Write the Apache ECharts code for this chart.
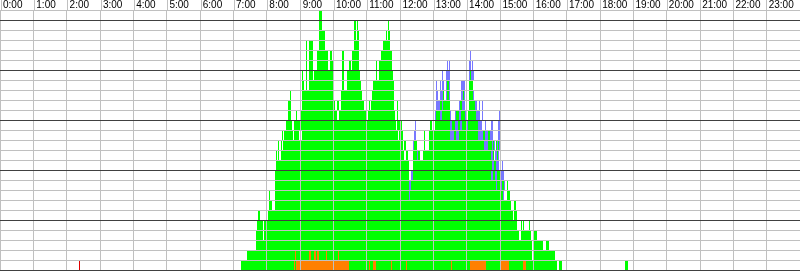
<!DOCTYPE html>
<html><head><meta charset="utf-8">
<script src="https://cdn.jsdelivr.net/npm/echarts@6/dist/echarts.min.js"></script>
<style>html,body{margin:0;padding:0;background:#fff}#c{width:800px;height:271px}</style>
</head><body><div id="c"></div>
<script>
// hour tick labels (x axis, minutes of day / 60)
const hourLabels = ['0:00','1:00','2:00','3:00','4:00','5:00','6:00','7:00','8:00','9:00','10:00','11:00',
  '12:00','13:00','14:00','15:00','16:00','17:00','18:00','19:00','20:00','21:00','22:00','23:00'];

// occupancy runs: [lane, startMinute, endMinute]
const green = [
 [1,434,1003],[1,1006,1011],[1,1125,1130],
 [2,445,957],[2,961,999],
 [3,461,957],[3,961,977],[3,982,989],
 [4,461,474],[4,476,935],[4,938,956],[4,962,966],
 [5,463,474],[5,476,931],[5,937,939],[5,941,943],[5,952,953],
 [6,464,468],[6,482,923],[6,925,930],
 [7,484,489],[7,495,919],[7,926,928],
 [8,484,486],[8,495,907],[8,912,918],
 [9,495,909],[9,912,914],
 [10,495,736],[10,743,901],
 [11,497,737],[11,743,885],[11,889,893],
 [12,497,499],[12,500,503],[12,505,727],[12,730,734],[12,743,750],[12,752,756],[12,761,884],[12,887,889],[12,894,896],
 [13,500,503],[13,505,507],[13,509,725],[13,727,731],[13,745,750],[13,763,765],[13,772,871],[13,878,885],[13,887,889],[13,892,894],[13,896,899],
 [14,508,510],[14,512,527],[14,530,539],[14,543,716],[14,719,725],[14,763,765],[14,772,810],[14,817,821],[14,826,860],[14,869,873],[14,878,882],
 [15,515,526],[15,530,540],[15,541,713],[15,715,723],[15,774,778],[15,783,810],[15,814,819],[15,824,828],[15,832,840],[15,842,860],
 [16,518,524],[16,532,533],[16,541,607],[16,610,659],[16,662,711],[16,714,717],[16,785,792],[16,796,810],[16,821,826],[16,830,837],[16,842,857],
 [17,518,520],[17,521,524],[17,544,603],[17,607,610],[17,613,656],[17,658,660],[17,664,666],[17,668,710],[17,714,716],[17,792,796],[17,797,810],[17,828,832],[17,844,855],
 [18,522,524],[18,544,602],[18,614,652],[18,670,710],[18,797,799],[18,805,808],[18,833,835],[18,844,851],
 [19,544,547],[19,550,552],[19,556,600],[19,616,620],[19,625,649],[19,672,709],[19,805,808],[19,844,851],
 [20,544,546],[20,550,552],[20,556,563],[20,566,599],[20,616,619],[20,625,648],[20,676,679],[20,682,708],[20,846,848],
 [21,550,552],[21,556,563],[21,570,590],[21,594,599],[21,616,619],[21,629,632],[21,634,647],[21,676,679],[21,683,705],
 [22,550,552],[22,557,563],[22,570,590],[22,594,598],[22,616,619],[22,633,647],[22,686,705],
 [23,550,552],[23,557,563],[23,574,585],[23,637,647],[23,690,702],
 [24,574,585],[24,637,640],[24,642,646],[24,694,696],[24,698,702],
 [25,574,580],[25,637,640],[25,642,644],[25,698,700],
 [26,574,579]
];
const blue = [
 [8,736,738],[8,906,908],
 [9,737,739],[9,893,895],[9,902,904],[9,907,909],
 [10,740,743],[10,884,887],[10,891,895],[10,901,907],
 [11,885,889],[11,893,898],[11,903,905],
 [12,750,752],[12,884,887],[12,891,894],[12,896,899],
 [13,743,745],[13,871,878],[13,885,887],[13,889,891],[13,894,896],[13,899,900],
 [14,745,749],[14,810,817],[14,821,826],[14,860,869],[14,873,878],[14,882,887],[14,896,900],
 [15,747,749],[15,810,814],[15,819,824],[15,828,832],[15,840,842],[15,860,868],[15,873,875],[15,883,884],[15,885,887],[15,896,900],
 [16,783,785],[16,792,796],[16,810,812],[16,819,821],[16,826,830],[16,837,841],[16,857,864],[16,868,869],[16,898,900],
 [17,785,792],[17,796,797],[17,826,828],[17,832,837],[17,855,859],[17,862,864],[17,868,869],
 [18,785,788],[18,792,797],[18,803,805],[18,808,810],[18,830,833],[18,835,837],[18,851,853],
 [19,785,787],[19,792,794],[19,796,799],[19,803,805],[19,808,810],[19,830,837],
 [20,796,797],[20,803,810],[20,844,846],[20,848,853],
 [21,805,806],[21,808,810],[21,844,848],[21,850,851],
 [22,846,848]
];
const orange = [
 [1,529,531],[1,533,629],[1,664,665],[1,672,676],[1,703,704],[1,730,732],[1,812,814],[1,846,874],[1,901,917],[1,941,946],
 [2,531,533],[2,557,560],[2,565,568],[2,571,574],[2,587,589],[2,608,610]
];
const red = [[1,142,144]];

const chart = echarts.init(document.getElementById('c'), null, {renderer: 'canvas'});

function laneRect(color) {
  return function (params, api) {
    const lane = api.value(0), s = api.value(1), e = api.value(2);
    const p0 = api.coord([s, lane - 1]);
    const p1 = api.coord([e, lane]);
    const x0 = Math.round(p0[0]);
    const x1 = Math.max(Math.round(p1[0]), x0 + 1);
    const y0 = Math.round(p1[1]);
    const y1 = Math.round(p0[1]);
    return {type: 'rect', shape: {x: x0, y: y0, width: x1 - x0, height: y1 - y0},
            style: {fill: color}};
  };
}
function laneSeries(name, data, color) {
  return {name: name, type: 'custom', xAxisIndex: 1, yAxisIndex: 1, z: 2,
          renderItem: laneRect(color), encode: {x: [1, 2], y: 0}, data: data, silent: true};
}

chart.setOption({
  animation: false,
  grid: [
    {left: 0, right: 0, top: 0, height: 10},
    {left: 0, right: 0, top: 10, height: 260}
  ],
  xAxis: [
    {gridIndex: 0, type: 'value', min: 0, max: 1440, interval: 60, position: 'bottom',
     axisLine: {show: false}, axisTick: {show: false},
     axisLabel: {inside: true, margin: 0, align: 'left', verticalAlign: 'bottom', padding: [0, 0, 0, 2],
       fontFamily: 'Liberation Sans', fontSize: 10, color: '#000', showMaxLabel: false,
       formatter: function (v) { return hourLabels[v / 60] || ''; }},
     splitLine: {show: true, lineStyle: {color: '#c0c0c0', width: 1}}},
    {gridIndex: 1, type: 'value', min: 0, max: 1440, interval: 60, z: 10,
     axisLine: {show: false}, axisTick: {show: false}, axisLabel: {show: false},
     splitLine: {show: true, lineStyle: {color: '#c0c0c0', width: 1}}}
  ],
  yAxis: [
    {gridIndex: 0, type: 'value', min: 0, max: 1, show: false},
    {gridIndex: 1, type: 'value', min: 0, max: 26, interval: 1, z: 11,
     axisLine: {show: false}, axisTick: {show: false}, axisLabel: {show: false},
     splitLine: {show: true, lineStyle: {width: 1,
       color: ['#404040', '#c0c0c0', '#c0c0c0', '#c0c0c0', '#c0c0c0']}}}
  ],
  series: [
    laneSeries('green', green, '#00ff00'),
    laneSeries('blue', blue, '#7878ff'),
    laneSeries('orange', orange, '#ff8000'),
    laneSeries('red', red, '#e00000')
  ]
});
</script></body></html>
